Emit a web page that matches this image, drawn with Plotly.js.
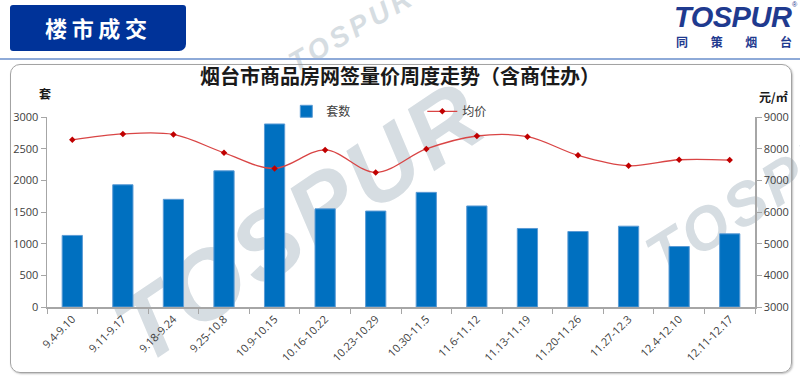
<!DOCTYPE html>
<html>
<head>
<meta charset="utf-8">
<script src="https://cdn.plot.ly/plotly-3.0.1.min.js"></script>
<style>
  html, body { margin:0; padding:0; background:#ffffff; }
  #wrap { position:relative; width:800px; height:381px; overflow:hidden; background:#ffffff; }
  .wm { position:absolute; white-space:nowrap; font-family:"Liberation Sans", Arial, sans-serif; font-weight:bold; font-style:italic; color:rgb(214,221,226); transform-origin:center center; line-height:1; letter-spacing:4px; }
  #frame { position:absolute; left:10px; top:64px; width:780px; height:307px; border:1.5px solid #a3a3a3; border-radius:10px; box-shadow:1px 1px 2px rgba(0,0,0,0.25); }
  #hdr { position:absolute; left:10px; top:5px; width:176px; height:46px; background:#003399; border-radius:3px 3px 7px 3px; }
  #hdrtxt { position:absolute; left:45px; top:15px; width:102px; height:24px; color:#fff; font-family:"Noto Sans CJK SC", sans-serif; font-weight:bold; font-size:22px; line-height:24px; display:flex; justify-content:space-between; }
  #hline { position:absolute; left:0; top:58px; width:800px; height:1.5px; background:#8eaad8; }
  #logo { position:absolute; left:674px; top:3px; font-family:"Liberation Sans", Arial, sans-serif; font-weight:bold; font-style:italic; font-size:29px; color:#1f3a8f; line-height:29px; height:29px; letter-spacing:-0.5px; }
  #reg { position:absolute; left:792px; top:1px; font-family:"Liberation Sans", Arial, sans-serif; font-size:7px; line-height:8px; color:#1f3a8f; }
  #logocn { position:absolute; left:676px; top:36px; width:116px; font-family:"Noto Sans CJK SC", sans-serif; font-weight:bold; font-size:12px; color:#1f3a8f; line-height:12px; display:flex; justify-content:space-between; }
  #chart { position:absolute; left:0; top:0; width:800px; height:381px; }
</style>
</head>
<body>
<div id="wrap">
  <div class="wm" style="left:300px; top:222px; font-size:96px; transform:translate(-50%,-50%) rotate(-34deg);">TOSPUR</div>
  <div class="wm" style="left:768px; top:190px; font-size:60px; transform:translate(-50%,-50%) rotate(-32deg);">TOSPUR</div>
  <div class="wm" style="left:352px; top:30px; font-size:28px; transform:translate(-50%,-50%) rotate(-30deg);">TOSPUR</div>
  <div id="frame"></div>
  <div id="hdr"></div>
  <div id="hdrtxt"><span>楼</span><span>市</span><span>成</span><span>交</span></div>
  <div id="hline"></div>
  <div id="logo">TOSPUR</div>
  <div id="reg">®</div>
  <div id="logocn"><span>同</span><span>策</span><span>烟</span><span>台</span></div>
  <div id="chart"></div>
</div>
<script>
const weeks = ["9.4-9.10","9.11-9.17","9.18-9.24","9.25-10.8","10.9-10.15","10.16-10.22","10.23-10.29","10.30-11.5","11.6-11.12","11.13-11.19","11.20-11.26","11.27-12.3","12.4-12.10","12.11-12.17"];
const units = [1130,1930,1700,2150,2890,1550,1515,1810,1595,1240,1192,1276,955,1155];
const avgPrice = [8280,8465,8450,7870,7375,7960,7250,7990,8400,8380,7790,7460,7650,7640];
const unitsName = "套数";
const priceName = "均价";
const titleText = "烟台市商品房网签量价周度走势（含商住办）";
const leftUnit = "套";
const rightUnit = "元/㎡";

const tickFont = {family:"Open Sans, Liberation Sans, sans-serif", size:11, color:"#404040"};
const axisColor = "#a6a6a6";

const traces = [
  {type:"bar", x:weeks, y:units, name:unitsName, yaxis:"y",
   marker:{color:"#0070c0", line:{color:"#5b9bd5", width:1}}},
  {type:"scatter", mode:"lines+markers", x:weeks, y:avgPrice, name:priceName, yaxis:"y2",
   line:{color:"#d94545", width:1.3, shape:"spline", smoothing:1},
   marker:{symbol:"diamond", size:5, color:"#c00000"}}
];

const layout = {
  width:800, height:381,
  margin:{l:47, r:45, t:117, b:74, pad:0},
  paper_bgcolor:"rgba(0,0,0,0)", plot_bgcolor:"rgba(0,0,0,0)",
  bargap:0.6,
  showlegend:true,
  legend:{orientation:"h", x:0.338, xanchor:"left", y:1.03, yanchor:"middle",
          entrywidth:91, entrywidthmode:"pixels", bgcolor:"rgba(0,0,0,0)",
          font:{family:"Noto Sans CJK SC, sans-serif", size:12, color:"#404040"}},
  title:{text:titleText, x:0.5, xanchor:"center", xref:"container", y:1-77/381, yref:"container", yanchor:"middle",
         font:{family:"Noto Sans CJK SC, sans-serif", size:20, color:"#1a1a1a", weight:"bold"}},
  xaxis:{type:"category", range:[-0.5, weeks.length-0.5], autorange:false, tickangle:-45, ticks:"outside", tickson:"boundaries", ticklen:5,
         tickcolor:axisColor, showline:true, linecolor:axisColor, linewidth:1.5, showgrid:false,
         tickfont:tickFont, zeroline:false},
  yaxis:{range:[0,3000], dtick:500, showgrid:false, zeroline:false, showline:true, linecolor:axisColor, linewidth:1.5,
         ticks:"outside", ticklen:5, tickcolor:axisColor, tickfont:tickFont},
  yaxis2:{range:[3000,9000], dtick:1000, overlaying:"y", side:"right", showgrid:false, zeroline:false,
          showline:true, linecolor:axisColor, linewidth:1.5, ticks:"outside", ticklen:5, tickcolor:axisColor, tickfont:tickFont},
  annotations:[
    {text:leftUnit, xref:"paper", yref:"paper", x:-0.003, y:(307-93)/190, showarrow:false, xanchor:"center", yanchor:"middle",
     font:{family:"Noto Sans CJK SC, sans-serif", size:12, color:"#1a1a1a", weight:"bold"}},
    {text:rightUnit, xref:"paper", yref:"paper", x:(773-47)/708, y:(307-97)/190, showarrow:false, xanchor:"center", yanchor:"middle",
     font:{family:"Noto Sans CJK SC, sans-serif", size:12, color:"#1a1a1a", weight:"bold"}}
  ]
};

Plotly.newPlot("chart", traces, layout, {staticPlot:true, displayModeBar:false});
</script>
</body>
</html>
